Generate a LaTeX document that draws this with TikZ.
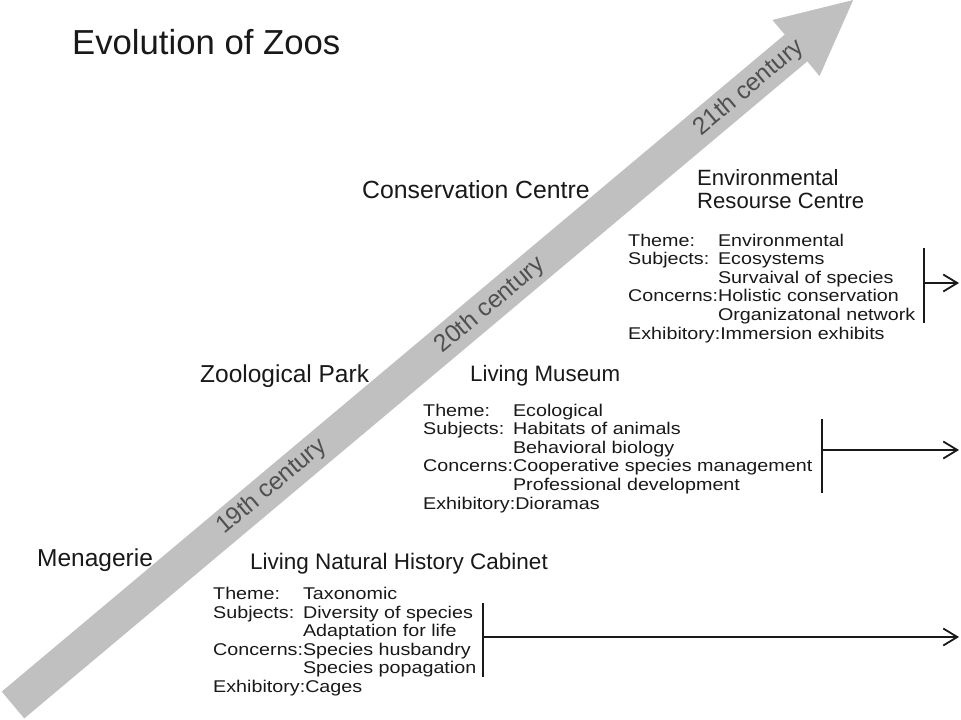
\documentclass[tikz,border=0pt]{standalone}
\usepackage{fontspec}
\setmainfont{Liberation Sans}
\newfontfamily\infofont[FakeStretch=1.16]{Liberation Sans}
\usetikzlibrary{arrows.meta}
\definecolor{bandgray}{RGB}{192,192,192}
\definecolor{bandtext}{RGB}{80,80,80}
\definecolor{ink}{RGB}{25,25,25}
\begin{document}
\begin{tikzpicture}[x=1pt,y=-1pt,
  title/.style={anchor=base west,inner sep=0,text=ink,font=\fontsize{34.7}{40}\selectfont},
  stage/.style={anchor=base west,inner sep=0,text=ink},
  info/.style={anchor=base west,inner sep=0,text=ink,font=\infofont\fontsize{17}{18.6}\selectfont},
  century/.style={rotate=40,inner sep=0,text=bandtext,font=\fontsize{24.5}{28}\selectfont},
  barline/.style={draw=ink,line width=1.8pt},
  outarrow/.style={draw=ink,line width=1.8pt,-{Straight Barb[length=14pt,width=17pt]}}]
\useasboundingbox (0,0) rectangle (961,720);
\fill[white] (0,0) rectangle (961,720);
% big grey arrow
\fill[bandgray] (24.25,718.41) -- (1.75,691.59) -- (784.75,34.59) -- (772.47,19.96)
  -- (853.15,0.05) -- (819.53,76.04) -- (807.25,61.41) -- cycle;
\node[century] (c19) at (271.7,486.7) {19th century};
\node[century] (c20) at (490.5,305.5) {20th century};
\node[century] (c21) at (749,88) {21th century};
% titles
\node[title] (ttl) at (72,54.5) {Evolution of Zoos};
\node[stage,font=\fontsize{24.8}{27}\selectfont] (cc) at (362,198.5) {Conservation Centre};
\node[stage,font=\fontsize{22.1}{23.5}\selectfont,align=left] (erc) at (697,208.5) {Environmental\\Resourse Centre};
\node[stage,font=\fontsize{24.5}{27}\selectfont] (zp) at (200,382) {Zoological Park};
\node[stage,font=\fontsize{22.3}{25}\selectfont] (lm) at (470,381) {Living Museum};
\node[stage,font=\fontsize{24.5}{27}\selectfont] (men) at (37,566) {Menagerie};
\node[stage,font=\fontsize{22.5}{25}\selectfont] (lnhc) at (250,569) {Living Natural History Cabinet};
% info blocks
\node[info] (i1) at (628,246) {\begin{tabular}[t]{@{}l@{}l@{}}
Theme: & Environmental\\
Subjects: & Ecosystems\\
 & Survaival of species\\
Concerns: & Holistic conservation\\
 & Organizatonal network\\
\multicolumn{2}{@{}l@{}}{Exhibitory:Immersion exhibits}
\end{tabular}};
\node[info] (i2) at (423,416) {\begin{tabular}[t]{@{}l@{}l@{}}
Theme: & Ecological\\
Subjects: & Habitats of animals\\
 & Behavioral biology\\
Concerns: & Cooperative species management\\
 & Professional development\\
\multicolumn{2}{@{}l@{}}{Exhibitory:Dioramas}
\end{tabular}};
\node[info] (i3) at (213,599.5) {\begin{tabular}[t]{@{}l@{}l@{}}
Theme: & Taxonomic\\
Subjects: & Diversity of species\\
 & Adaptation for life\\
Concerns: & Species husbandry\\
 & Species popagation\\
\multicolumn{2}{@{}l@{}}{Exhibitory:Cages}
\end{tabular}};
% brackets and arrows
\coordinate (b1t) at (924,248); \coordinate (b1b) at (924,323);
\coordinate (b1m) at (924,283); \coordinate (b1e) at (959,283);
\coordinate (b2t) at (822,419); \coordinate (b2b) at (822,493);
\coordinate (b2m) at (822,450); \coordinate (b2e) at (959,450);
\coordinate (b3t) at (483,603); \coordinate (b3b) at (483,677);
\coordinate (b3m) at (483,637); \coordinate (b3e) at (959,637);
\draw[barline] (b1t) -- (b1b);
\draw[barline] (b2t) -- (b2b);
\draw[barline] (b3t) -- (b3b);
\draw[outarrow] (b1m) -- (b1e);
\draw[outarrow] (b2m) -- (b2e);
\draw[outarrow] (b3m) -- (b3e);
\end{tikzpicture}
\end{document}
